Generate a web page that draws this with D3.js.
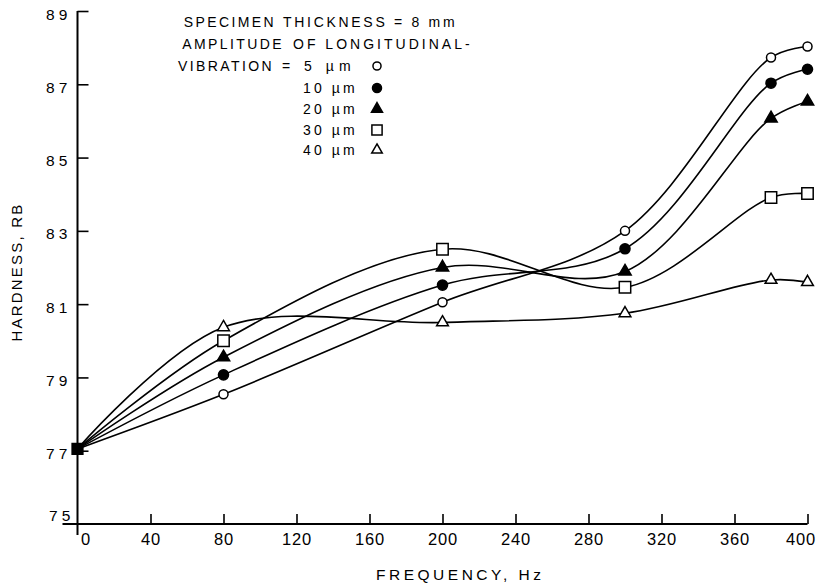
<!DOCTYPE html>
<html><head><meta charset="utf-8">
<script src="https://cdn.jsdelivr.net/npm/d3@7/dist/d3.min.js"></script>
<style>
body{margin:0;background:#fff}
svg{display:block}
text{font-family:"Liberation Sans",Arial,sans-serif;fill:#000}
</style>
</head><body>
<svg id="c" width="819" height="587"></svg>
<script>
// ---- data ----
const frequencies = [0, 80, 200, 300, 380, 400];
const amp5  = [77.05, 78.54, 81.05, 83.00, 87.73, 88.03];
const amp10 = [77.05, 79.07, 81.52, 82.51, 87.03, 87.41];
const amp20 = [77.05, 79.55, 82.00, 81.89, 86.07, 86.53];
const amp30 = [77.05, 80.00, 82.50, 81.46, 83.91, 84.02];
const amp40 = [77.05, 80.37, 80.50, 80.75, 81.66, 81.60];
const seriesLabels = ["5 \u00b5m", "10 \u00b5m", "20 \u00b5m", "30 \u00b5m", "40 \u00b5m"];
const xTicks = [0, 40, 80, 120, 160, 200, 240, 280, 320, 360, 400];
const yTicks = [75, 77, 79, 81, 83, 85, 87, 89];
const legendHeads = ["SPECIMEN", "AMPLITUDE", "VIBRATION"];
const legendTails = ["THICKNESS = 8 mm", "OF LONGITUDINAL-", "= "];
const xTitle = "FREQUENCY, Hz";
const yTitle = "HARDNESS, RB";

const seriesValues = [amp5, amp10, amp20, amp30, amp40];
const markerStyles = [
  {type: d3.symbolCircle,   fill: "#fff", size: 64},
  {type: d3.symbolCircle,   fill: "#000", size: 80},
  {type: d3.symbolTriangle, fill: "#000", size: 66},
  {type: d3.symbolSquare,   fill: "#fff", size: 130},
  {type: d3.symbolTriangle, fill: "#fff", size: 60}
];

const svg = d3.select("#c");
const x = d3.scaleLinear().domain([0, 400]).range([77.5, 807.5]);
const y = d3.scaleLinear().domain([75, 89]).range([524, 11]);

// axes lines
svg.append("line").attr("x1", x(0) - 15).attr("x2", x(400)).attr("y1", y(75)).attr("y2", y(75))
  .attr("stroke", "#000").attr("stroke-width", 2);
svg.append("line").attr("x1", x(0)).attr("x2", x(0)).attr("y1", y(89)).attr("y2", y(75) + 11)
  .attr("stroke", "#000").attr("stroke-width", 2);

// x axis
const gx = svg.append("g").attr("transform", `translate(0,${y(75)})`)
  .call(d3.axisBottom(x).tickValues(xTicks.slice(1)).tickSize(-10).tickSizeOuter(0).tickFormat(d => d));
gx.select(".domain").remove();
gx.selectAll(".tick line").attr("stroke", "#000").attr("stroke-width", 1.6);
gx.selectAll(".tick text").attr("y", 21).attr("dy", null)
  .attr("font-size", 16.5).attr("letter-spacing", 0.8)
  .attr("dx", d => d === 400 ? -7 : 0);
svg.append("text").attr("x", x(0) + 8).attr("y", y(75) + 21).attr("text-anchor", "middle")
  .attr("font-size", 16.5).text(xTicks[0]);

// y axis
const gy = svg.append("g").attr("transform", `translate(${x(0)},0)`)
  .call(d3.axisLeft(y).tickValues(yTicks).tickSize(-11).tickSizeOuter(0)
    .tickFormat(d => String(d).split("").join(" ")));
gy.select(".domain").remove();
gy.selectAll(".tick line").attr("stroke", "#000").attr("stroke-width", 1.6)
  .attr("display", d => d === 75 ? "none" : null);
gy.selectAll(".tick text").attr("dy", null)
  .attr("font-size", 15.5)
  .attr("x", d => d === 75 ? -7 : -10)
  .attr("y", d => d === 75 ? -4 : 8);

// titles
svg.append("text").attr("x", 376).attr("y", 580)
  .attr("textLength", 165).attr("lengthAdjust", "spacing")
  .attr("font-size", 15.5).text(xTitle);
svg.append("text").attr("transform", `translate(22,272) rotate(-90)`).attr("text-anchor", "middle")
  .attr("font-size", 15).attr("letter-spacing", 2.2).text(yTitle);

// curves
const line = d3.line().x((d, i) => x(frequencies[i])).y(d => y(d)).curve(d3.curveCatmullRom.alpha(0.5));
svg.append("g").selectAll("path").data(seriesValues).join("path")
  .attr("d", line).attr("fill", "none").attr("stroke", "#000").attr("stroke-width", 1.6);

// markers
seriesValues.forEach((vals, s) => {
  const st = markerStyles[s];
  svg.append("g").selectAll("path").data(vals.slice(1)).join("path")
    .attr("transform", (d, i) => `translate(${x(frequencies[i + 1])},${y(d)})`)
    .attr("d", d3.symbol(st.type, st.size)())
    .attr("fill", st.fill).attr("stroke", "#000").attr("stroke-width", 1.5);
});
// common origin point
svg.append("path").attr("transform", `translate(${x(frequencies[0])},${y(amp5[0])})`)
  .attr("d", d3.symbol(d3.symbolSquare, 150)()).attr("fill", "#000");

// legend
const lg = svg.append("g").attr("font-size", 14).attr("letter-spacing", 2.4);
const headEnd = [276, 284, 274];
const tailStart = [283, 293, 282];
const tailLen = [174, 179, 71];
const lineY = [27, 49, 71];
legendHeads.forEach((h, i) => {
  lg.append("text").attr("x", headEnd[i]).attr("y", lineY[i]).attr("text-anchor", "end").text(h);
  lg.append("text").attr("x", tailStart[i]).attr("y", lineY[i])
    .attr("textLength", tailLen[i]).attr("lengthAdjust", "spacing")
    .text(i === 2 ? legendTails[i] + seriesLabels[0] : legendTails[i]);
});
const legY = [71, 93, 114, 135, 155];
seriesLabels.forEach((lab, s) => {
  if (s > 0) lg.append("text").attr("x", 303).attr("y", legY[s])
    .attr("textLength", 54).attr("lengthAdjust", "spacing").text(lab);
  const st = markerStyles[s];
  svg.append("path").attr("transform", `translate(377,${legY[s] - 5})`)
    .attr("d", d3.symbol(st.type, st.size * 0.8)())
    .attr("fill", st.fill).attr("stroke", "#000").attr("stroke-width", 1.5);
});
</script>
</body></html>
